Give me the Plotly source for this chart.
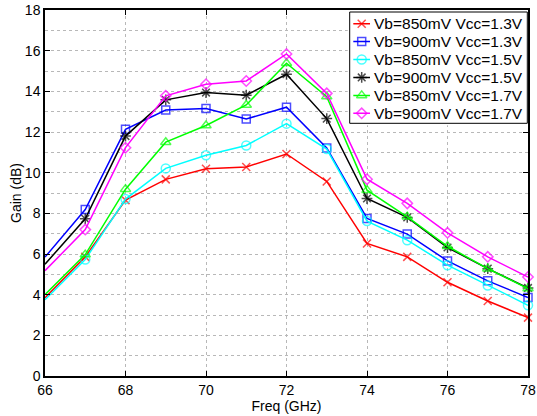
import plotly.graph_objects as go

freq = [66, 67, 68, 69, 70, 71, 72, 73, 74, 75, 76, 77, 78]

names = ["Vb=850mV Vcc=1.3V", "Vb=900mV Vcc=1.3V", "Vb=850mV Vcc=1.5V",
         "Vb=900mV Vcc=1.5V", "Vb=850mV Vcc=1.7V", "Vb=900mV Vcc=1.7V"]

gain_850_13 = [3.85, 5.86, 8.65, 9.67, 10.19, 10.28, 10.92, 9.57, 6.52, 5.86, 4.61, 3.69, 2.87]
gain_900_13 = [5.85, 8.19, 12.13, 13.08, 13.15, 12.64, 13.22, 11.21, 7.75, 6.98, 5.66, 4.68, 3.86]
gain_850_15 = [3.75, 5.73, 8.70, 10.21, 10.86, 11.34, 12.41, 11.16, 7.62, 6.68, 5.45, 4.45, 3.48]
gain_900_15 = [5.50, 7.73, 11.80, 13.58, 13.94, 13.81, 14.84, 12.66, 8.73, 7.80, 6.32, 5.28, 4.33]
gain_850_17 = [4.00, 5.97, 9.19, 11.50, 12.32, 13.33, 15.38, 13.74, 9.14, 7.83, 6.38, 5.28, 4.30]
gain_900_17 = [5.18, 7.20, 11.23, 13.78, 14.35, 14.51, 15.84, 13.90, 9.68, 8.49, 7.04, 5.86, 4.87]

series = [gain_850_13, gain_900_13, gain_850_15, gain_900_15, gain_850_17, gain_900_17]
colors = ["#ff0000", "#0000ff", "#00ffff", "#000000", "#00ff00", "#ff00ff"]
symbols = ["x-thin-open", "square-open", "circle-open", "asterisk-open", "triangle-up-open", "diamond-open"]
msizes = [8, 8, 9, 9, 9, 8]

font_family = "Liberation Sans, Arial, Helvetica, sans-serif"

# figure geometry (pixels)
W, H = 537, 416
ML, MR, MT, MB = 45, 9, 10, 40
PX0, PX1 = ML, W - MR          # plot area x extent
PY0, PY1 = MT, H - MB          # plot area y extent (top, bottom)

# legend box geometry (pixels, inside plot area)
LEG_X0, LEG_X1 = 349.7, 527.3
LEG_Y0, LEG_Y1 = 12.0, 123.3
ROW0, ROW_STEP = 23.7, 17.92
SAMPLE_X0, SAMPLE_X1, SAMPLE_XM = 353.3, 370.0, 361.7
TEXT_X = 373.3

fig = go.Figure()
for name, ys, c, s, ms in zip(names, series, colors, symbols, msizes):
    sizes = [0] + [ms] * (len(freq) - 1)
    fig.add_trace(go.Scatter(
        x=freq, y=ys, name=name, mode="lines+markers", showlegend=False,
        line=dict(color=c, width=1.5),
        marker=dict(symbol=s, size=sizes, color=c, line=dict(color=c, width=1.5)),
        cliponaxis=False, hoverinfo="skip",
    ))

# legend drawn on an overlay axis measured in pixels
ax2_x0 = LEG_X0 - 2
ax2_y1 = LEG_Y1 + 2
fig.add_trace(go.Scatter(
    x=[LEG_X0, LEG_X1, LEG_X1, LEG_X0, LEG_X0],
    y=[LEG_Y0, LEG_Y0, LEG_Y1, LEG_Y1, LEG_Y0],
    xaxis="x2", yaxis="y2", mode="lines", fill="toself",
    fillcolor="white", line=dict(color="black", width=1),
    showlegend=False, hoverinfo="skip",
))
annotations = []
for i, (name, c, s, ms) in enumerate(zip(names, colors, symbols, msizes)):
    yc = ROW0 + ROW_STEP * i
    fig.add_trace(go.Scatter(
        x=[SAMPLE_X0, SAMPLE_XM, SAMPLE_X1], y=[yc, yc, yc],
        xaxis="x2", yaxis="y2", mode="lines+markers",
        line=dict(color=c, width=1.5),
        marker=dict(symbol=s, size=[0, ms, 0], color=c, line=dict(color=c, width=1.5)),
        showlegend=False, hoverinfo="skip", cliponaxis=False,
    ))
    annotations.append(dict(
        x=TEXT_X, y=yc, xref="x2", yref="y2", text=name, showarrow=False,
        xanchor="left", yanchor="middle", borderpad=0,
        font=dict(family=font_family, size=15.5, color="black"),
    ))

fig.update_layout(
    width=W, height=H,
    margin=dict(l=ML, r=MR, t=MT, b=MB, autoexpand=False),
    paper_bgcolor="white", plot_bgcolor="white",
    font=dict(family=font_family, size=14, color="black"),
    showlegend=False,
    annotations=annotations,
    xaxis=dict(
        range=[66, 78], dtick=2, tick0=66, automargin=False,
        showline=True, linecolor="black", linewidth=1.5, mirror="ticks",
        ticks="inside", ticklen=5, tickcolor="black",
        showgrid=True, gridcolor="#b8b8b8", griddash="dot", gridwidth=1,
        zeroline=False,
        title=dict(text="Freq (GHz)", standoff=0, font=dict(size=14)),
        tickfont=dict(size=14),
    ),
    yaxis=dict(
        range=[0, 18], dtick=2, tick0=0, automargin=False,
        showline=True, linecolor="black", linewidth=1.5, mirror="ticks",
        ticks="inside", ticklen=5, tickcolor="black",
        showgrid=True, gridcolor="#b8b8b8", griddash="dot", gridwidth=1,
        minor=dict(dtick=1, showgrid=True, gridcolor="#b8b8b8", griddash="dot", gridwidth=1),
        zeroline=False,
        title=dict(text="Gain (dB)", standoff=0, font=dict(size=14)),
        tickfont=dict(size=14),
    ),
    xaxis2=dict(
        domain=[(ax2_x0 - PX0) / (PX1 - PX0), 1.0],
        range=[ax2_x0, PX1], anchor="y2", visible=False, fixedrange=True,
    ),
    yaxis2=dict(
        domain=[(PY1 - ax2_y1) / (PY1 - PY0), 1.0],
        range=[ax2_y1, PY0], anchor="x2", visible=False, fixedrange=True,
    ),
)

fig.write_html(
    "out.html",
    config={"displayModeBar": False},
    post_script="document.body.style.margin='0';document.body.style.overflow='hidden';",
)
